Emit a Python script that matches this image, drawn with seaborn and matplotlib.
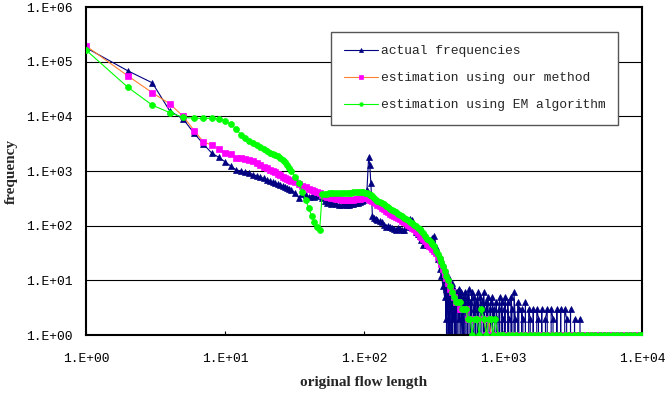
import matplotlib
matplotlib.use("Agg")
import matplotlib.pyplot as plt
import seaborn as sns
from matplotlib.ticker import FixedLocator, FixedFormatter, NullLocator

# ---------------- data ----------------
series_names = ["actual frequencies",
                "estimation using our method",
                "estimation using EM algorithm"]

head_length = [
    1, 2, 3, 4, 5, 6, 7, 8, 9, 10,
    11, 12, 13, 14, 15, 16, 17, 18, 19, 20,
    21, 22, 23, 24, 25, 26, 27, 28, 29, 30,
    32, 34, 36, 38, 40, 42, 44, 46, 48, 50,
    52, 54, 56, 58, 60,
    63, 66, 69, 72, 75, 78, 81, 84, 87, 90, 93, 96, 99,
    102, 105, 108, 110, 112, 115, 118, 121,
    125, 130, 135, 140, 145, 150, 155, 160, 165, 170,
    176, 182, 188, 194, 200,
    207, 214, 221, 228, 235,
    243, 251, 259, 267, 275,
    284, 293, 302, 311, 320,
    330, 340, 350, 360, 370, 380]

actual_head = [
    180000, 68000, 41000, 12600, 8900, 4900, 3100, 2150, 1780, 1480,
    1230, 1050, 1000, 960, 910, 860, 810, 770, 730, 690,
    650, 620, 600, 580, 560, 530, 510, 490, 470, 450,
    400, 320, 380, 360, 340, 355, 335, 350, 360, 320,
    280, 260, 270, 250, 255,
    245, 240, 235, 245, 240, 235, 245, 250, 255, 260, 270, 285, 300,
    320, 450, 1800, 1300, 600, 150, 140, 130,
    125, 120, 115, 105, 95, 100, 95, 90, 88, 85,
    90, 88, 85, 82, 95,
    110, 135, 125, 95, 75,
    70, 65, 55, 45, 50,
    48, 52, 45, 60, 65,
    40, 25, 16, 12, 8, 5]

ours_head = [
    194000, 55000, 27000, 17000, 10000, 5500, 3400, 3000, 2560, 2160,
    2050, 1750, 1700, 1640, 1590, 1500, 1400, 1300, 1200, 1120,
    1060, 1000, 950, 900, 840, 790, 760, 720, 690, 660,
    620, 570, 530, 500, 470, 445, 425, 405, 390, 370,
    355, 340, 330, 320, 316,
    310, 305, 300, 300, 300, 298, 300, 300, 305, 305, 310, 315, 320,
    320, 318, 310, 300, 295, 285, 270, 255,
    240, 225, 212, 198, 185, 175, 165, 157, 150, 144,
    137, 130, 124, 117, 110,
    104, 98, 92, 86, 80,
    74, 66, 61, 56, 52,
    47, 43, 40, 37, 34,
    31, 27, 24, 20, 16, 13]

em_head = [
    163000, 34000, 16000, 11700, 9600, 9200, 9200, 9200, 9000, 8300,
    7200, 5900, 4600, 4000, 3500, 3200, 2950, 2700, 2500, 2300,
    2150, 2050, 1950, 1850, 1700, 1600, 1450, 1300, 1150, 1000,
    780, 600, 420, 300, 210, 150, 115, 95, 85, 380,
    385, 385, 390, 390, 390,
    395, 395, 400, 400, 400, 400, 400, 405, 405, 410, 410, 415, 415,
    400, 390, 380, 370, 360, 345, 320, 300,
    285, 270, 257, 245, 230, 215, 200, 190, 182, 175,
    165, 155, 148, 140, 135,
    125, 118, 110, 104, 98,
    92, 86, 80, 72, 65,
    58, 54, 50, 46, 42,
    35, 30, 26, 22, 18, 15]

actual_tail_length = [
    384, 388, 392, 396, 400, 404, 408, 412, 416, 420,
    424, 428, 432, 436, 440, 444, 448, 452, 456, 460,
    465, 470, 475, 480, 485, 490, 495, 500, 506, 512,
    518, 524, 530, 536, 542, 548, 555, 562, 569, 576,
    583, 590, 598, 606, 614, 622, 630, 639, 648, 657,
    666, 675, 685, 695, 705, 715, 725, 736, 747, 758,
    769, 780, 792, 804, 816, 828, 840, 853, 866, 879,
    892, 906, 920, 934, 948, 963, 978, 993, 1008, 1024,
    1040, 1060, 1080, 1100, 1120, 1140, 1160, 1180, 1200, 1225,
    1250, 1275, 1300, 1330, 1360, 1390, 1420, 1450, 1490, 1530,
    1570, 1610, 1650, 1700, 1750, 1800, 1850, 1900, 1960, 2020,
    2080, 2150, 2220, 2290, 2360, 2440, 2520, 2600, 2690, 2780,
    2870, 2960, 3060, 3160, 3270, 3380, 3490, 3580]

actual_tail = [
    10, 2, 7, 0, 12, 4, 1, 8, 0, 5,
    3, 9, 0, 6, 2, 7, 4, 0, 5, 3,
    6, 0, 4, 7, 2, 5, 0, 6, 3, 1,
    5, 0, 4, 6, 2, 0, 5, 3, 7, 0,
    4, 2, 6, 0, 3, 5, 1, 4, 0, 6,
    3, 0, 5, 2, 4, 0, 6, 3, 0, 4,
    2, 5, 0, 3, 4, 0, 5, 2, 3, 0,
    4, 2, 0, 3, 5, 0, 4, 2, 0, 3,
    5, 0, 4, 2, 0, 5, 3, 0, 6, 2,
    0, 4, 3, 0, 3, 2, 0, 4, 0, 3,
    2, 0, 3, 0, 3, 2, 0, 3, 0, 2,
    3, 0, 3, 2, 0, 3, 0, 3, 0, 3,
    2, 0, 3, 0, 2, 0, 0, 2]

est_tail_length = [
    390, 400, 415, 430, 445, 460, 475, 490, 505, 520,
    540, 560, 580, 600, 625, 650, 675, 700, 730, 760,
    790, 820, 850, 880, 920, 960, 1000, 1080, 1160, 1250,
    1350, 1450, 1560, 1680, 1800, 1940, 2080, 2240, 2410, 2590,
    2780, 3000, 3220, 3460, 3720, 4000, 4300, 4620, 4960, 5330,
    5730, 6160, 6620, 7110, 7640, 8210, 8820, 9470, 10000]

ours_tail = [
    11, 9, 7, 6, 5, 4, 4, 3, 3, 3,
    3, 2, 2, 2, 2, 2, 2, 2, 2, 1,
    2, 1, 1, 1, 1, 1, 1, 1, 1, 1,
    1, 1, 1, 1, 1, 1, 1, 1, 1, 1,
    1, 1, 1, 1, 1, 1, 1, 1, 1, 1,
    1, 1, 1, 1, 1, 1, 1, 1, 1]

em_tail = [
    12, 10, 8, 6, 5, 4, 4, 4, 3, 3,
    3, 2, 2, 1, 2, 2, 1, 3, 2, 1,
    2, 2, 1, 2, 1, 1, 1, 1, 1, 1,
    1, 1, 1, 1, 1, 1, 1, 1, 1, 1,
    1, 1, 1, 1, 1, 1, 1, 1, 1, 1,
    1, 1, 1, 1, 1, 1, 1, 1, 1]

x_ticks = [1, 10, 100, 1000, 10000]
x_tick_labels = ["1.E+00", "1.E+01", "1.E+02", "1.E+03", "1.E+04"]
y_ticks = [1, 10, 100, 1000, 10000, 100000, 1000000]
y_tick_labels = ["1.E+00", "1.E+01", "1.E+02", "1.E+03", "1.E+04", "1.E+05", "1.E+06"]

# ---------------- style ----------------
sns.set_style("white")
plt.rcParams["font.family"] = ["Liberation Mono", "DejaVu Sans Mono"]

fig = plt.figure(figsize=(6.65, 3.94), dpi=100)
ax = fig.add_axes([86 / 665, 1 - 335 / 394, 556 / 665, 328 / 394])

mono = "Liberation Mono"
serif = "Liberation Serif"

sns.lineplot(x=head_length + actual_tail_length, y=actual_head + actual_tail,
             ax=ax, estimator=None, errorbar=None, sort=False,
             color="#000080", linewidth=0.8, marker="^", markersize=4.8,
             markerfacecolor="#000080", markeredgecolor="#000080",
             markeredgewidth=0.5, label=series_names[0], zorder=2.1)
sns.lineplot(x=head_length + est_tail_length, y=ours_head + ours_tail,
             ax=ax, estimator=None, errorbar=None, sort=False,
             color="#FF8030", linewidth=0.8, marker="s", markersize=4.0,
             markerfacecolor="#FF00FF", markeredgecolor="#FF00FF",
             markeredgewidth=0.5, label=series_names[1], zorder=2.2)
sns.lineplot(x=head_length + est_tail_length, y=em_head + em_tail,
             ax=ax, estimator=None, errorbar=None, sort=False,
             color="#00FF00", linewidth=0.8, marker="o", markersize=4.3,
             markerfacecolor="#00FF00", markeredgecolor="#00FF00",
             markeredgewidth=0.5, label=series_names[2], zorder=2.8)

ax.set_xscale("log")
ax.set_yscale("log")
ax.set_xlim(x_ticks[0], x_ticks[-1])
ax.set_ylim(y_ticks[0], y_ticks[-1])

ax.xaxis.set_major_locator(FixedLocator(x_ticks))
ax.xaxis.set_major_formatter(FixedFormatter(x_tick_labels))
ax.xaxis.set_minor_locator(NullLocator())
ax.yaxis.set_major_locator(FixedLocator(y_ticks))
ax.yaxis.set_major_formatter(FixedFormatter(y_tick_labels))
ax.yaxis.set_minor_locator(NullLocator())

ax.tick_params(axis="x", direction="in", length=3, width=0.8, color="black",
               pad=13, labelsize=9.4, labelcolor="black", bottom=True)
ax.tick_params(axis="y", length=0, pad=9.5, labelsize=9.4, labelcolor="black", left=True)
for lab in ax.get_xticklabels() + ax.get_yticklabels():
    lab.set_fontfamily(mono)

ax.grid(axis="y", color="black", linewidth=0.8)
ax.grid(axis="x", visible=False)
ax.set_axisbelow(True)
for sp in ax.spines.values():
    sp.set_visible(True)
    sp.set_color("black")
    sp.set_linewidth(1.5)
    sp.set_zorder(2.5)

ax.set_xlabel("original flow length", fontfamily=serif, fontweight="bold",
              fontsize=11, labelpad=8)
ax.set_ylabel("frequency", fontfamily=serif, fontweight="bold",
              fontsize=11, labelpad=6)

leg = ax.legend(loc="upper left", bbox_to_anchor=(0.4406, 0.9238),
                borderaxespad=0, frameon=True, fancybox=False, framealpha=1,
                edgecolor="#555555", prop={"family": mono, "size": 9.4},
                handlelength=2.6, handletextpad=0.2, labelspacing=1.15,
                borderpad=1.0, markerscale=0.6, numpoints=1)
leg.get_frame().set_linewidth(1.0)
leg.set_zorder(5)

fig.savefig("out.png", dpi=100, facecolor="white")
